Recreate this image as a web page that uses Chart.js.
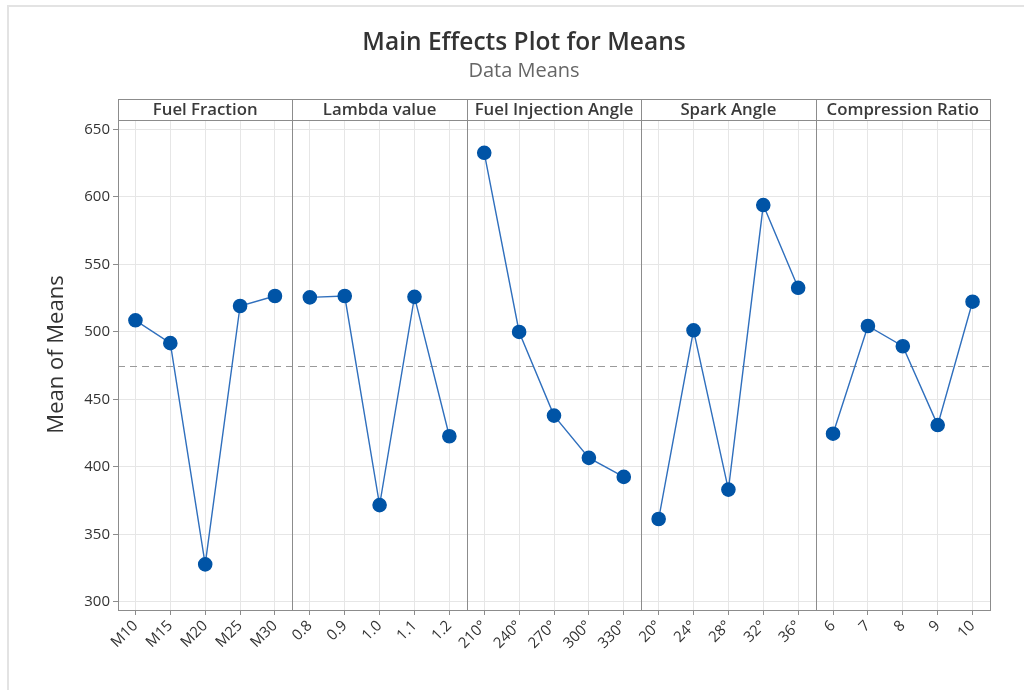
<!DOCTYPE html>
<html>
<head>
<meta charset="utf-8">
<script src="https://cdn.jsdelivr.net/npm/chart.js@4.4.1/dist/chart.umd.min.js"></script>
<style>
  html,body{margin:0;padding:0;background:#fff;}
  #wrap{position:relative;width:1024px;height:690px;}
  #frame{position:absolute;left:7px;top:5px;right:0;bottom:0;border-left:2px solid #e3e3e3;border-top:2px solid #e3e3e3;pointer-events:none;}
  canvas{position:absolute;left:0;top:0;}
</style>
</head>
<body>
<div id="wrap">
  <canvas id="c" width="1024" height="690"></canvas>
  <div id="frame"></div>
</div>
<script>
// ---- Data ----
const factors = ["Fuel Fraction", "Lambda value", "Fuel Injection Angle", "Spark Angle", "Compression Ratio"];
const fuelFractionLevels = ["M10", "M15", "M20", "M25", "M30"];
const lambdaLevels = ["0.8", "0.9", "1.0", "1.1", "1.2"];
const injectionLevels = ["210°", "240°", "270°", "300°", "330°"];
const sparkLevels = ["20°", "24°", "28°", "32°", "36°"];
const compressionLevels = ["6", "7", "8", "9", "10"];

const fuelFractionMeans = [508.6, 491.7, 327.8, 519.2, 526.6];
const lambdaMeans = [525.6, 526.6, 371.7, 526.0, 422.7];
const injectionMeans = [632.7, 500.0, 438.0, 406.7, 392.6];
const sparkMeans = [361.4, 501.2, 383.2, 594.0, 532.7];
const compressionMeans = [424.6, 504.4, 489.4, 431.0, 522.4];

const grandMean = 475;
const yTicks = [300, 350, 400, 450, 500, 550, 600, 650];
const yTitle = "Mean of Means";

// ---- Build ----
const levelGroups = [fuelFractionLevels, lambdaLevels, injectionLevels, sparkLevels, compressionLevels];
const meanGroups = [fuelFractionMeans, lambdaMeans, injectionMeans, sparkMeans, compressionMeans];
const allLabels = [].concat(...levelGroups);

const datasets = meanGroups.map((vals, gi) => {
  const data = allLabels.map(() => null);
  let start = 0;
  for (let k = 0; k < gi; k++) start += levelGroups[k].length;
  vals.forEach((v, j) => { data[start + j] = v; });
  return {
    label: factors[gi],
    data: data,
    borderColor: '#2f6fbd',
    borderWidth: 1.4,
    backgroundColor: '#0054a6',
    pointBackgroundColor: '#0054a6',
    pointBorderColor: '#0054a6',
    pointRadius: 6.6,
    pointHoverRadius: 6.6,
    spanGaps: false,
    tension: 0
  };
});

const panelPlugin = {
  id: 'panels',
  beforeDatasetsDraw(chart) {
    const {ctx, chartArea: a, scales: {x, y}} = chart;
    const yy = Math.round(y.getPixelForValue(grandMean)) + 0.5;
    ctx.save();
    ctx.strokeStyle = '#9a9a9a';
    ctx.lineWidth = 1.2;
    ctx.setLineDash([7, 5]);
    ctx.beginPath();
    ctx.moveTo(a.left, yy);
    ctx.lineTo(a.right, yy);
    ctx.stroke();
    ctx.restore();
  },
  afterDraw(chart) {
    const {ctx, chartArea: a, scales: {x}} = chart;
    ctx.save();
    ctx.strokeStyle = '#8c8c8c';
    ctx.lineWidth = 1;
    const headTop = a.top - 21;
    let idx = 0;
    const bounds = [a.left];
    levelGroups.forEach((g) => {
      idx += g.length;
      const px = idx < allLabels.length
        ? (x.getPixelForValue(idx - 1) + x.getPixelForValue(idx)) / 2
        : a.right;
      bounds.push(px);
    });
    bounds.forEach((b) => {
      const bx = Math.round(b) + 0.5;
      ctx.beginPath();
      ctx.moveTo(bx, headTop);
      ctx.lineTo(bx, a.bottom);
      ctx.stroke();
    });
    [headTop, a.top].forEach((hy) => {
      const yy = Math.round(hy) + 0.5;
      ctx.beginPath();
      ctx.moveTo(a.left, yy);
      ctx.lineTo(a.right, yy);
      ctx.stroke();
    });
    ctx.fillStyle = '#3a3a3a';
    ctx.font = '600 16.8px "Open Sans", sans-serif';
    ctx.textAlign = 'center';
    ctx.textBaseline = 'middle';
    factors.forEach((f, i) => {
      ctx.fillText(f, (bounds[i] + bounds[i + 1]) / 2, (headTop + a.top) / 2 + 1);
    });
    ctx.translate(57, (headTop + a.bottom) / 2);
    ctx.rotate(-Math.PI / 2);
    ctx.font = '22px "Open Sans", sans-serif';
    ctx.fillStyle = '#333';
    ctx.fillText(yTitle, 0, 0);
    ctx.restore();
  }
};

new Chart(document.getElementById('c'), {
  type: 'line',
  data: { labels: allLabels, datasets: datasets },
  plugins: [panelPlugin],
  options: {
    responsive: false,
    animation: false,
    events: [],
    layout: { padding: { left: 58, right: 34, top: 0, bottom: 10 } },
    plugins: {
      legend: { display: false },
      tooltip: { enabled: false },
      title: {
        display: true,
        text: 'Main Effects Plot for Means',
        color: '#333',
        font: { family: '"Open Sans", sans-serif', size: 24.5, weight: '600' },
        padding: { top: 28, bottom: 1 }
      },
      subtitle: {
        display: true,
        text: 'Data Means',
        color: '#666',
        font: { family: '"Open Sans", sans-serif', size: 20, weight: 'normal' },
        padding: { top: 1, bottom: 36.6 }
      }
    },
    scales: {
      x: {
        type: 'category',
        offset: true,
        grid: { offset: false, color: '#e6e6e6', lineWidth: 1, tickColor: '#8c8c8c', tickLength: 5, drawOnChartArea: true },
        border: { color: '#8c8c8c', width: 1 },
        ticks: {
          color: '#333',
          font: { family: '"Open Sans", sans-serif', size: 15 },
          minRotation: 45, maxRotation: 45, autoSkip: false, padding: 2
        },
        afterFit(s) { s.height = 70; }
      },
      y: {
        min: 294, max: 657,
        afterBuildTicks(s) { s.ticks = yTicks.map(v => ({ value: v })); },
        grid: { color: '#e6e6e6', lineWidth: 1, tickColor: '#8c8c8c', tickLength: 5 },
        border: { color: '#8c8c8c', width: 1 },
        ticks: {
          color: '#333',
          font: { family: '"Open Sans", sans-serif', size: 15 },
          padding: 3
        },
        title: { display: false },
        afterFit(s) { s.width = 60; }
      }
    }
  }
});
</script>
</body>
</html>
